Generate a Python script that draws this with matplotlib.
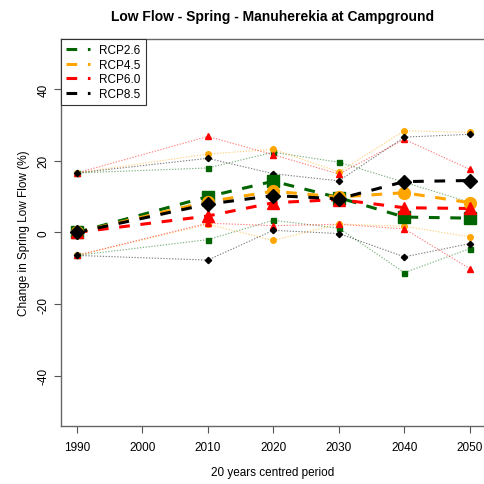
import matplotlib.pyplot as plt

plt.rcParams['font.family'] = ['Liberation Sans', 'DejaVu Sans']
plt.rcParams['axes.unicode_minus'] = False

years = [1990, 2010, 2020, 2030, 2040, 2050]
scenarios = ["RCP2.6", "RCP4.5", "RCP6.0", "RCP8.5"]

# ensemble mean change (%)
mean_vals = {
    "RCP2.6": [0, 10.0, 14.3, 9.7, 4.3, 4.0],
    "RCP4.5": [0, 8.6, 11.5, 9.9, 11.1, 8.3],
    "RCP6.0": [0, 4.6, 8.3, 9.2, 6.9, 6.7],
    "RCP8.5": [0, 7.9, 10.3, 9.4, 14.2, 14.5],
}
# upper bound of the ensemble
upper_vals = {
    "RCP2.6": [16.6, 18.0, 22.4, 19.6, 14.0, 8.4],
    "RCP4.5": [16.6, 21.9, 23.2, 16.9, 28.4, 27.9],
    "RCP6.0": [16.6, 26.8, 21.7, 16.3, 26.0, 17.6],
    "RCP8.5": [16.6, 20.7, 16.4, 14.4, 26.6, 27.4],
}
# lower bound of the ensemble
lower_vals = {
    "RCP2.6": [-6.4, -2.0, 3.4, 1.2, -11.2, -4.5],
    "RCP4.5": [-6.4, 2.3, -2.2, 2.4, 1.7, -1.2],
    "RCP6.0": [-6.4, 2.6, 1.9, 2.3, 1.0, -10.1],
    "RCP8.5": [-6.4, -7.7, 0.6, -0.3, -6.8, -3.1],
}

colors = {"RCP2.6": "#006400", "RCP4.5": "#FFA500", "RCP6.0": "#FF0000", "RCP8.5": "#000000"}
markers = {"RCP2.6": "s", "RCP4.5": "o", "RCP6.0": "^", "RCP8.5": "D"}
big = {"RCP2.6": 8, "RCP4.5": 8.5, "RCP6.0": 9, "RCP8.5": 7}
small = {"RCP2.6": 3.6, "RCP4.5": 4.0, "RCP6.0": 4.3, "RCP8.5": 3.2}

fig = plt.figure(figsize=(4.85, 4.85), dpi=100)
ax = fig.add_axes([0.1258, 0.1196, 0.8742, 0.798])

# ranges as thin dotted lines
for s in scenarios:
    c = colors[s]
    for vals in (upper_vals[s], lower_vals[s]):
        ax.plot(years, vals, color=c, lw=0.8, dashes=(1.2, 1.4), alpha=0.5, zorder=2)
        ax.plot(years, vals, ls="none", marker=markers[s], ms=small[s],
                color=c, mec=c, zorder=3)

# means as thick dashed lines
handles = []
for s in scenarios:
    c = colors[s]
    line, = ax.plot(years, mean_vals[s], color=c, lw=2.2, dashes=(3.5, 3.5), zorder=4,
                    label=s)
    ax.plot(years, mean_vals[s], ls="none", marker=markers[s], ms=big[s],
            color=c, mec=c, zorder=5)
    handles.append(line)

ax.set_xlim(1987.6, 2052.3)
ax.set_ylim(-54, 54)
ax.set_xticks([1990, 2000, 2010, 2020, 2030, 2040, 2050])
ax.set_yticks([-40, -20, 0, 20, 40])
ax.tick_params(axis='both', labelsize=8.5, length=5, width=0.8, color="#555555")
ax.tick_params(axis='x', pad=6)
ax.tick_params(axis='y', pad=3)
plt.setp(ax.get_yticklabels(), rotation=90, va="center")

for sp in ax.spines.values():
    sp.set_color("#666666")
    sp.set_linewidth(1.0)

ax.set_title("Low Flow - Spring - Manuherekia at Campground", fontsize=10,
             fontweight="bold", pad=14)
ax.set_xlabel("20 years centred period", fontsize=8.5, labelpad=9)
ax.set_ylabel("Change in Spring Low Flow (%)", fontsize=8.5, labelpad=6)

leg = ax.legend(handles=handles, loc="upper left", borderaxespad=0, fontsize=8.5,
                handlelength=2.0, handletextpad=0.8, labelspacing=0.22,
                fancybox=False, framealpha=1, edgecolor="#333333",
                borderpad=0.45)
leg.get_frame().set_linewidth(0.8)

fig.savefig("out.png", dpi=100)
